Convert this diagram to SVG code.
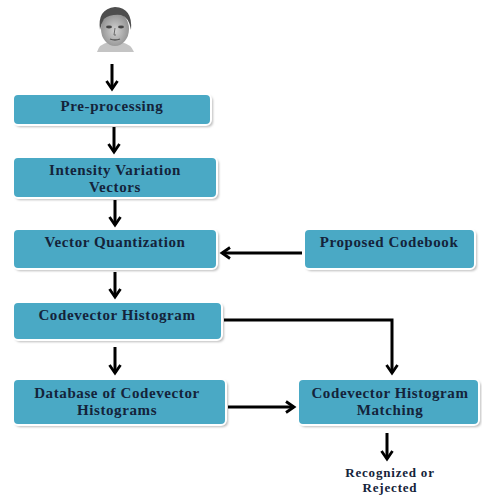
<svg xmlns="http://www.w3.org/2000/svg" width="482" height="495" viewBox="0 0 482 495">
<style>
.box{fill:#4aa9c5;stroke:#ffffff;stroke-width:2}
.sh{fill:#bdbdbd;filter:url(#blur)}
.t{font-family:"Liberation Serif","DejaVu Serif",serif;font-weight:bold;font-size:15px;letter-spacing:0.6px;fill:#14233a;text-anchor:middle}
.r{font-size:13px;letter-spacing:0.8px}
.c{fill:none;stroke:#000;stroke-width:3}
</style>
<defs>
<filter id="blur" x="-10%" y="-30%" width="120%" height="160%"><feGaussianBlur stdDeviation="1.2"/></filter>
<marker id="ah" viewBox="0 0 14 14" refX="11" refY="7" markerWidth="14" markerHeight="14" markerUnits="userSpaceOnUse" orient="auto">
<path d="M3,1.5 L11,7 L3,12.5" fill="none" stroke="#000" stroke-width="2.8" stroke-linejoin="miter"/>
</marker>
<radialGradient id="skin" cx="50%" cy="55%" r="55%"><stop offset="0" stop-color="#d2d2d2"/><stop offset="1" stop-color="#8e8e8e"/></radialGradient>
</defs>
<g id="face">
<path d="M97,52 Q99,44 109,42 L121,42 Q131,44 134,52 Z" fill="#c4c4c4"/>
<ellipse cx="115" cy="29" rx="14" ry="17" fill="url(#skin)"/>
<path d="M100,30 Q97,9 115,7 Q133,8 131,30 Q129,17 121,15 Q110,14 104,19 Q101,24 100,30 Z" fill="#4e4e4e"/>
<ellipse cx="109" cy="27" rx="3" ry="1.4" fill="#444"/>
<ellipse cx="121" cy="27" rx="3" ry="1.4" fill="#444"/>
<path d="M115,28 L114,35 L116,35" fill="none" stroke="#6a6a6a" stroke-width="1"/>
<path d="M110,39 Q115,41 120,39" fill="none" stroke="#555" stroke-width="1.3"/>
</g>
<g id="preprocessing">
<rect class="sh" x="15" y="96" width="198" height="31" rx="5"/>
<rect class="box" x="13" y="94" width="198" height="31" rx="5"/>
<text class="t" x="112" y="111">Pre-processing</text>
</g>
<g id="intensity">
<rect class="sh" x="15" y="159" width="204" height="41" rx="5"/>
<rect class="box" x="13" y="157" width="204" height="41" rx="5"/>
<text class="t" x="115" y="175">Intensity Variation</text>
<text class="t" x="115" y="192">Vectors</text>
</g>
<g id="vq">
<rect class="sh" x="15" y="231" width="204" height="40" rx="5"/>
<rect class="box" x="13" y="229" width="204" height="40" rx="5"/>
<text class="t" x="115" y="247">Vector Quantization</text>
</g>
<g id="codebook">
<rect class="sh" x="306" y="231" width="171" height="40" rx="5"/>
<rect class="box" x="304" y="229" width="171" height="40" rx="5"/>
<text class="t" x="389" y="247">Proposed Codebook</text>
</g>
<g id="histogram">
<rect class="sh" x="15" y="304" width="209" height="38" rx="5"/>
<rect class="box" x="13" y="302" width="209" height="38" rx="5"/>
<text class="t" x="117" y="320">Codevector Histogram</text>
</g>
<g id="database">
<rect class="sh" x="15" y="381" width="213" height="46" rx="5"/>
<rect class="box" x="13" y="379" width="213" height="46" rx="5"/>
<text class="t" x="117" y="398">Database of Codevector</text>
<text class="t" x="117" y="415">Histograms</text>
</g>
<g id="matching">
<rect class="sh" x="300" y="381" width="181" height="46" rx="5"/>
<rect class="box" x="298" y="379" width="181" height="46" rx="5"/>
<text class="t" x="390" y="398">Codevector Histogram</text>
<text class="t" x="390" y="415">Matching</text>
</g>
<g id="result">
<text class="t r" x="390" y="477">Recognized or</text>
<text class="t r" x="390" y="492">Rejected</text>
</g>
<g id="connectors">
<line class="c" x1="112" y1="64" x2="112" y2="89" marker-end="url(#ah)"/>
<line class="c" x1="114" y1="127" x2="114" y2="152" marker-end="url(#ah)"/>
<line class="c" x1="115" y1="200" x2="115" y2="225" marker-end="url(#ah)"/>
<line class="c" x1="115" y1="272" x2="115" y2="297" marker-end="url(#ah)"/>
<line class="c" x1="115" y1="347" x2="115" y2="373" marker-end="url(#ah)"/>
<line class="c" x1="302" y1="253" x2="222" y2="253" marker-end="url(#ah)"/>
<polyline class="c" points="224,320 392,320 392,373" marker-end="url(#ah)"/>
<line class="c" x1="228" y1="407" x2="294" y2="407" marker-end="url(#ah)"/>
<line class="c" x1="387" y1="433" x2="387" y2="459" marker-end="url(#ah)"/>
</g>
</svg>
